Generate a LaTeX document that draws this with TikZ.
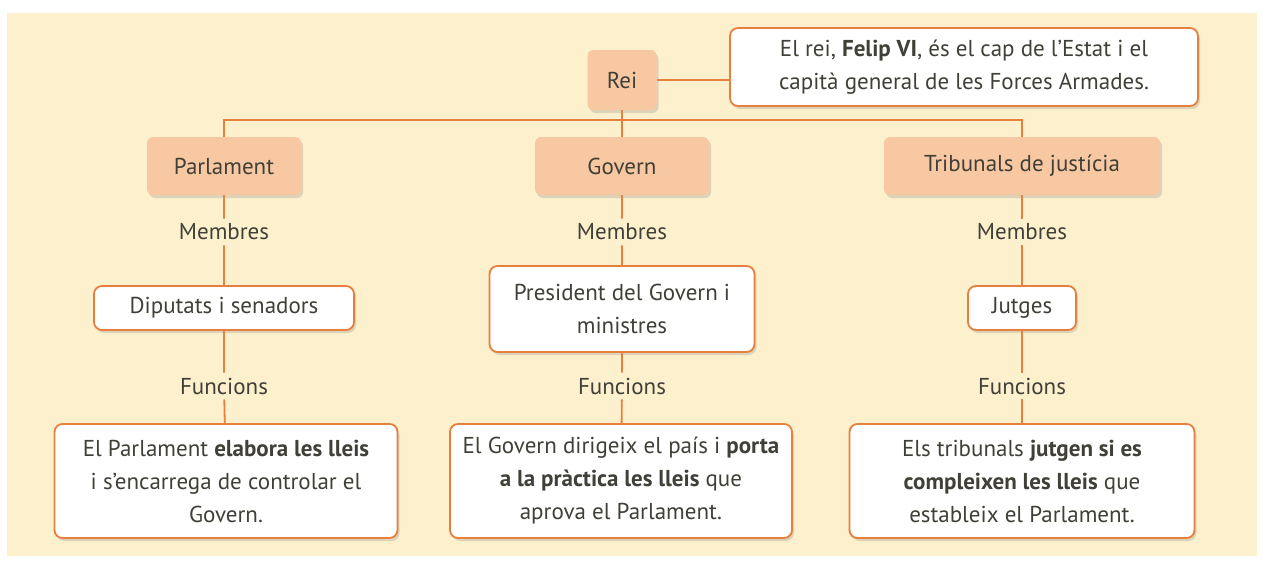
\documentclass[tikz,border=0pt]{standalone}
\usepackage{fontspec}
\setmainfont{PT Sans}
\usepackage{tikz}
\usetikzlibrary{positioning,shadows}

\definecolor{cream}{HTML}{FDF0CD}
\definecolor{peach}{HTML}{F8C8A2}
\definecolor{rust}{HTML}{E7803E}
\definecolor{ink}{HTML}{404038}

\tikzset{
  txt/.style={text=ink, font=\fontsize{23}{33}\selectfont, align=center},
  head/.style={txt, fill=peach, rounded corners=6pt, minimum height=58pt,
    drop shadow={shadow xshift=2pt, shadow yshift=-3pt, opacity=.25}},
  card/.style={txt, draw=rust, line width=1.8pt, fill=white, rounded corners=8pt,
    drop shadow={shadow xshift=2pt, shadow yshift=-3pt, opacity=.25}},
  tag/.style={txt, inner sep=5pt},
  link/.style={draw=rust, line width=1.8pt},
}

\begin{document}
\begin{tikzpicture}[x=1pt, y=-1pt]
    % page and background
    \useasboundingbox[fill=white] (0,0) rectangle (1270,562);
    \fill[cream] (7,13) rectangle (1257,556);

    % king
    \node[head, minimum width=69pt, minimum height=60pt] (rei) at (622,80) {Rei};
    \node[card, minimum width=468pt, minimum height=78pt] (reitxt) at (964,67)
        {El rei, \textbf{Felip VI}, és el cap de l’Estat i el\\capità general de les Forces Armades.};

    % the three powers
    \node[head, minimum width=154pt] (parl) at (224,166) {Parlament};
    \node[head, minimum width=174pt] (gov) at (622,166) {Govern};
    \node[head, minimum width=276pt] (trib) at (1022,166) {Tribunals de justícia};

    \coordinate (bus) at (622,120);

    % members
    \node[tag] (memP) at (224,232) {Membres};
    \node[tag] (memG) at (622,232) {Membres};
    \node[tag] (memT) at (1022,232) {Membres};

    \node[card, minimum width=260pt, minimum height=44pt] (dip) at (224,308) {Diputats i senadors};
    \node[card, minimum width=265pt, minimum height=86pt] (pres) at (622,309) {President del Govern i\\ministres};
    \node[card, minimum width=108pt, minimum height=44pt] (jut) at (1022,308) {Jutges};

    % functions
    \node[tag] (funP) at (224,386) {Funcions};
    \node[tag] (funG) at (622,386) {Funcions};
    \node[tag] (funT) at (1022,386) {Funcions};

    \node[card, minimum width=343pt, minimum height=114pt] (fP) at (226,481)
        {El Parlament \textbf{elabora les lleis}\\i s’encarrega de controlar el\\Govern.};
    \node[card, minimum width=342pt, minimum height=114pt] (fG) at (621,481)
        {El Govern dirigeix el país i \textbf{porta}\\\textbf{a la pràctica les lleis} que\\aprova el Parlament.};
    \node[card, minimum width=345pt, minimum height=114pt] (fT) at (1022,481)
        {Els tribunals \textbf{jutgen si es}\\\textbf{compleixen les lleis} que\\estableix el Parlament.};

    % connectors
    \draw[link] (rei.east) -- (rei.east -| reitxt.west);
    \draw[link] (rei) -- (gov);
    \draw[link] (parl.north) |- (bus) -| (trib.north);
    \foreach \a/\b/\c/\d/\e in {parl/memP/dip/funP/fP, gov/memG/pres/funG/fG, trib/memT/jut/funT/fT}
        \draw[link] (\a) -- (\b) -- (\c) -- (\d) -- (\e);
\end{tikzpicture}
\end{document}
